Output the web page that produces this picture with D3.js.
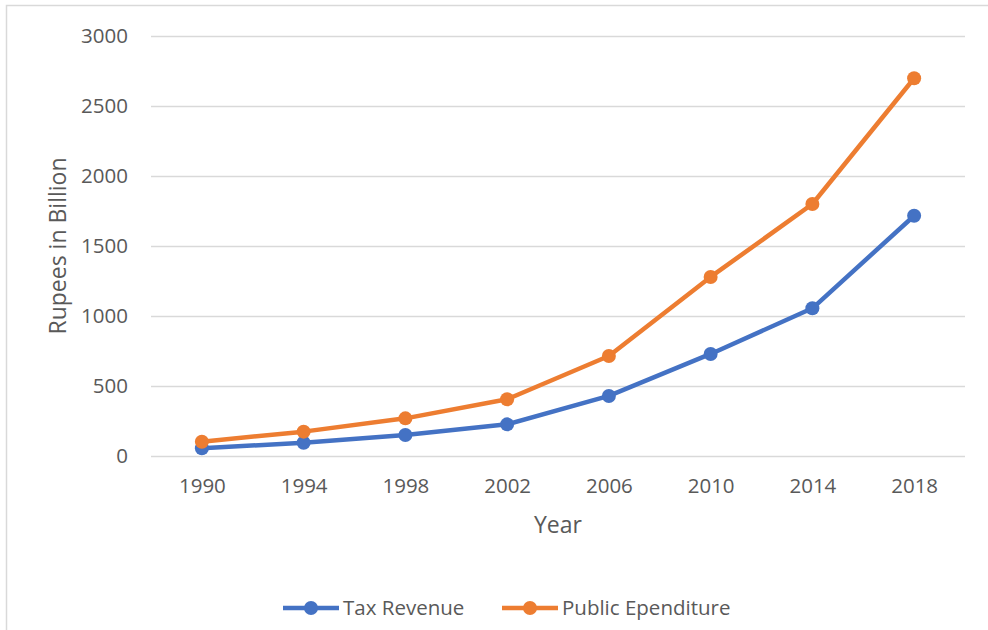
<!DOCTYPE html>
<html>
<head>
<meta charset="utf-8">
<script src="https://cdn.jsdelivr.net/npm/d3@7"></script>
<style>
  body { margin: 0; background: #fff; }
  text { font-family: "Open Sans", "Noto Sans", sans-serif; fill: #595959; }
</style>
</head>
<body>
<div id="canvas"></div>
<script>
var years = ['1990', '1994', '1998', '2002', '2006', '2010', '2014', '2018'];
var taxRevenue = [55, 95, 150, 226, 429, 729, 1055, 1716];
var publicExpenditure = [102, 174, 269, 405, 714, 1279, 1800, 2698];
var yTicks = [0, 500, 1000, 1500, 2000, 2500, 3000];
var seriesNames = ['Tax Revenue', 'Public Ependiture'];
var seriesColors = ['#4472C4', '#ED7D31'];

var W = 988, H = 630;
var m = {t: 36, r: 23, b: 174, l: 151},
    w = W - m.l - m.r,
    h = H - m.t - m.b;

var svg = d3.select('#canvas').append('svg')
    .attr('width', W).attr('height', H);

// chart border
svg.append('rect')
    .attr('x', 6.5).attr('y', 5.5)
    .attr('width', W + 10).attr('height', H + 10)
    .attr('fill', 'none').attr('stroke', '#d9d9d9').attr('stroke-width', 1.5);

var plot = svg.append('g')
    .attr('transform', 'translate(' + m.l + ',' + m.t + ')');

var x = d3.scalePoint().domain(years).range([0, w]).padding(0.5);
var y = d3.scaleLinear().domain([0, 3000]).range([h, 0]);

// gridlines + y labels
var yAxis = d3.axisLeft(y).tickValues(yTicks).tickSize(-w).tickPadding(23)
    .tickFormat(d3.format('d'));
plot.append('g').call(yAxis)
    .call(function(g) {
        g.select('.domain').remove();
        g.selectAll('line').attr('stroke', '#d9d9d9').attr('stroke-width', 1.3);
        g.selectAll('text').style('font-size', '20.5px').attr('fill', '#595959');
    });

// x labels
var xAxis = d3.axisBottom(x).tickSize(0).tickPadding(22);
plot.append('g').attr('transform', 'translate(0,' + h + ')').call(xAxis)
    .call(function(g) {
        g.select('.domain').remove();
        g.selectAll('text').style('font-size', '20.5px').attr('fill', '#595959');
    });

// axis titles
plot.append('text')
    .attr('x', w / 2).attr('y', h + 77)
    .attr('text-anchor', 'middle')
    .style('font-size', '23px').text('Year');

svg.append('text')
    .attr('transform', 'translate(66,' + (m.t + h / 2) + ') rotate(-90)')
    .attr('text-anchor', 'middle')
    .style('font-size', '23px').text('Rupees in Billion');

// lines
var series = [taxRevenue, publicExpenditure];
var line = d3.line()
    .x(function(d, i) { return x(years[i]); })
    .y(function(d) { return y(d); });

series.forEach(function(vals, k) {
    plot.append('path')
        .datum(vals)
        .attr('d', line)
        .attr('fill', 'none')
        .attr('stroke', seriesColors[k])
        .attr('stroke-width', 4.5)
        .attr('stroke-linejoin', 'round');
    plot.selectAll('.dot' + k)
        .data(vals)
        .enter().append('circle')
        .attr('cx', function(d, i) { return x(years[i]); })
        .attr('cy', function(d) { return y(d); })
        .attr('r', 7)
        .attr('fill', seriesColors[k]);
});

// legend
var legX = [283, 502];
var legend = svg.append('g').attr('transform', 'translate(0,608)');
seriesNames.forEach(function(name, k) {
    var g = legend.append('g').attr('transform', 'translate(' + legX[k] + ',0)');
    g.append('line').attr('x1', 0).attr('x2', 56).attr('y1', 0).attr('y2', 0)
        .attr('stroke', seriesColors[k]).attr('stroke-width', 4.5);
    g.append('circle').attr('cx', 28).attr('cy', 0).attr('r', 7).attr('fill', seriesColors[k]);
    g.append('text').attr('x', 60).attr('y', 0).attr('dy', '0.35em')
        .style('font-size', '20.5px').text(name);
});
</script>
</body>
</html>
